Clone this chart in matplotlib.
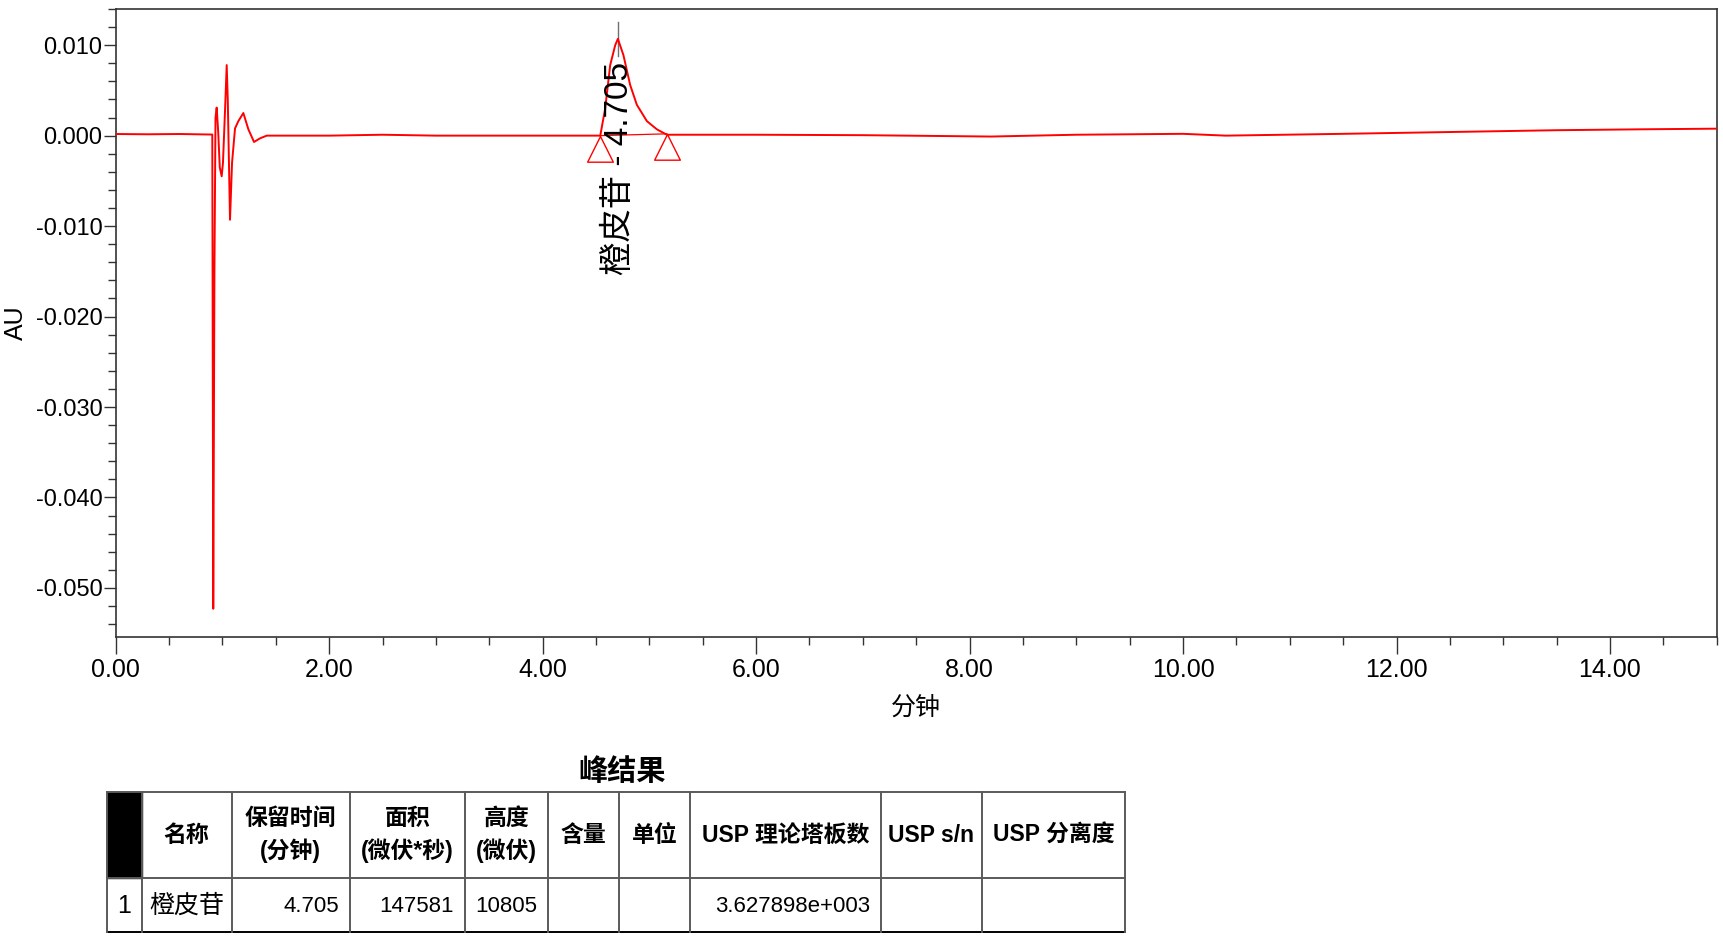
import matplotlib
matplotlib.use('Agg')
import matplotlib.pyplot as plt
from matplotlib.path import Path
from matplotlib.patches import Rectangle

plt.rcParams['font.family'] = ['Liberation Sans', 'Noto Sans CJK SC', 'DejaVu Sans']

# ---------------- data ----------------
time_min = [0.00, 0.30, 0.60, 0.905, 0.914, 0.925, 0.935, 0.946, 0.960, 0.975, 0.993,
            1.005, 1.025, 1.040, 1.050, 1.071, 1.090, 1.118, 1.149, 1.196, 1.243,
            1.296, 1.352, 1.415, 2.00, 2.50, 3.00, 3.50, 4.00, 4.30, 4.54, 4.586,
            4.633, 4.680, 4.705, 4.757, 4.820, 4.883, 4.977, 5.070, 5.164, 5.30,
            6.00, 7.00, 8.20, 9.00, 10.00, 10.40, 11.50, 12.50, 13.50, 14.30, 15.00]
absorbance_au = [0.00018, 0.00015, 0.00018, 0.00012, -0.0523, -0.0150, 0.0020, 0.0031,
                 0.0005, -0.0035, -0.0045, -0.0030, 0.0030, 0.0078, 0.0040, -0.0093,
                 -0.0030, 0.0008, 0.0016, 0.0025, 0.0007, -0.0007, -0.0003, 0.0000,
                 0.0000, 0.0001, 0.0000, 0.0000, 0.0000, 0.0000, 0.0000, 0.0030,
                 0.0078, 0.0100, 0.0107, 0.0089, 0.0056, 0.0034, 0.0016, 0.0007,
                 0.0001, 0.0001, 0.0001, 0.00005, -0.0001, 0.0001, 0.0002, 0.0000,
                 0.0002, 0.0004, 0.0006, 0.0007, 0.00077]

peak_name = '橙皮苷'
peak_rt = 4.705
peak_apex_au = 0.0107
peak_start = (4.54, 0.0000)
peak_end = (5.164, 0.0002)

x_ticks = [0, 2, 4, 6, 8, 10, 12, 14]
y_ticks = [0.010, 0.000, -0.010, -0.020, -0.030, -0.040, -0.050]
y_tick_labels = ['0.010', '0.000', '-0.010', '-0.020', '-0.030', '-0.040', '-0.050']

table_title = '峰结果'
table_headers = ['', '名称', '保留时间\n(分钟)', '面积\n(微伏*秒)', '高度\n(微伏)',
                 '含量', '单位', 'USP 理论塔板数', 'USP s/n', 'USP 分离度']
table_row = ['1', peak_name, '4.705', '147581', '10805', '', '', '3.627898e+003', '', '']
row_align = ['center', 'center', 'right', 'right', 'right', 'right', 'right', 'right', 'right', 'right']

# ---------------- layout ----------------
W, H = 1723, 939
fig = plt.figure(figsize=(W / 100, H / 100), dpi=100)
ax = fig.add_axes([115.7 / W, 1 - 637.3 / H, 1601 / W, 628.3 / H])

red = '#ff0000'
ax.plot(time_min, absorbance_au, color=red, lw=1.4, zorder=3)
ax.plot([peak_start[0], peak_end[0]], [peak_start[1], peak_end[1]], color=red, lw=0.9, zorder=3)
tri = Path([(0, 0), (-0.5, -1), (0.5, -1), (0, 0)],
           [Path.MOVETO, Path.LINETO, Path.LINETO, Path.CLOSEPOLY])
ax.plot([peak_start[0], peak_end[0]], [peak_start[1], peak_end[1]], ls='none',
        marker=tri, ms=37, mfc='none', mec=red, mew=1.0, zorder=4)
ax.plot([peak_rt, peak_rt], [peak_apex_au - 0.0019, peak_apex_au + 0.0019],
        color='#707070', lw=1.0, zorder=2)
ax.text(peak_rt + 0.01, -0.00366, f'{peak_name} - {peak_rt:.3f}', rotation=90,
        ha='center', va='center', fontsize=24,
        family=['Liberation Sans', 'Noto Sans CJK SC'], zorder=5)

ax.set_xlim(0, 15)
ax.set_ylim(-0.05546, 0.01381)
ax.set_xticks(x_ticks)
ax.set_xticklabels([f'{v:.2f}' for v in x_ticks])
ax.set_xticks([v * 0.5 for v in range(31)], minor=True)
ax.set_yticks(y_ticks)
ax.set_yticklabels(y_tick_labels)
ax.set_yticks([round(-0.054 + 0.002 * i, 3) for i in range(35)], minor=True)

spine_c = '#333333'
for s in ax.spines.values():
    s.set_color(spine_c)
    s.set_linewidth(1.2)
ax.tick_params(axis='x', which='major', length=12, width=1.0, pad=3, labelsize=18, color=spine_c)
ax.tick_params(axis='x', which='minor', length=6, width=1.0, color=spine_c)
ax.tick_params(axis='y', which='major', length=8.6, width=1.0, pad=1.0, labelsize=17, color=spine_c)
ax.tick_params(axis='y', which='minor', length=5.8, width=1.0, color=spine_c)

ax.set_xlabel('分钟', fontsize=18, family=['Noto Sans CJK SC'])
ax.xaxis.set_label_coords(0.5, -0.114)
ax.xaxis.label.set_va('center')
ax.set_ylabel('AU', fontsize=18, family=['Liberation Sans'])
ax.yaxis.set_label_coords(-0.062, 0.5)
ax.yaxis.label.set_va('center')
ax.yaxis.label.set_ha('center')

# ---------------- table ----------------
tax = fig.add_axes([0, 0, 1, 1])
tax.set_xlim(0, W)
tax.set_ylim(H, 0)
tax.axis('off')
tax.patch.set_visible(False)

col_edges = [107, 141.5, 231.5, 350, 465, 548, 619, 690, 881, 982, 1125]
row_edges = [792, 878, 932]

tax.text(622, 771, table_title, ha='center', va='center', fontsize=21, fontweight='bold',
         family=['Noto Sans CJK SC'])
tax.add_patch(Rectangle((col_edges[0], row_edges[0]), col_edges[1] - col_edges[0],
                        row_edges[1] - row_edges[0], color='black'))
line_c = '#5a5a5a'
for y in row_edges:
    tax.plot([col_edges[0], col_edges[-1]], [y, y], color='black' if y == row_edges[-1] else line_c, lw=1.4)
for x in col_edges:
    tax.plot([x, x], [row_edges[0], row_edges[-1]], color=line_c, lw=1.4)

font_mix = ['Liberation Sans', 'Noto Sans CJK SC']
for i, lab in enumerate(table_headers):
    if not lab:
        continue
    xc = (col_edges[i] + col_edges[i + 1]) / 2
    yc = (row_edges[0] + row_edges[1]) / 2
    tax.text(xc, yc, lab, ha='center', va='center', fontsize=16.5, fontweight='bold',
             family=font_mix, linespacing=1.4, multialignment='center')

for i, val in enumerate(table_row):
    if not val:
        continue
    yc = (row_edges[1] + row_edges[2]) / 2 + 1
    if row_align[i] == 'center':
        xc = (col_edges[i] + col_edges[i + 1]) / 2
        tax.text(xc, yc, val, ha='center', va='center', fontsize=18, family=font_mix)
    else:
        tax.text(col_edges[i + 1] - 11, yc, val, ha='right', va='center', fontsize=16, family=font_mix)

fig.savefig('out.png', dpi=100)
